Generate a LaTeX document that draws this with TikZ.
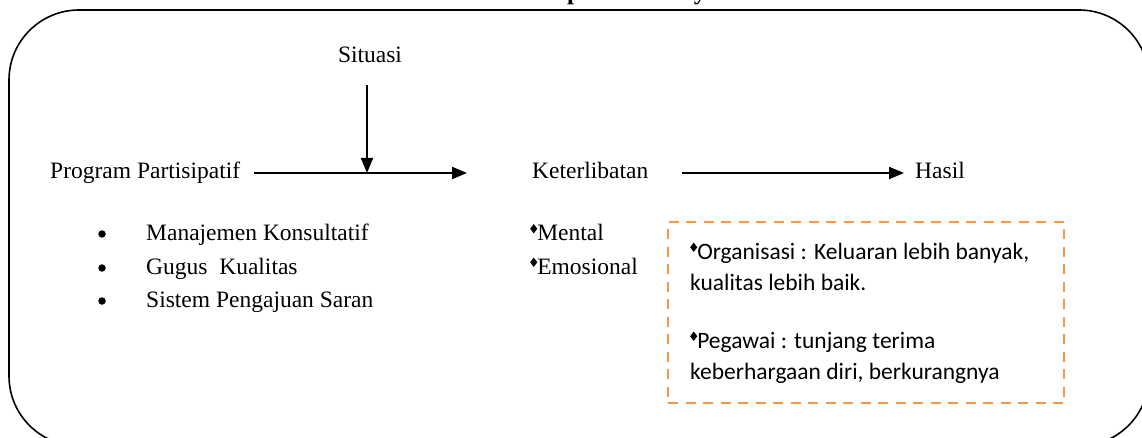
\documentclass[tikz,border=0pt]{standalone}
\usepackage{fontspec}
\setmainfont{Liberation Serif}
\newfontfamily\calfont{Carlito}
\usetikzlibrary{arrows.meta}
\definecolor{boxorange}{RGB}{247,150,70}
\newcommand{\dia}{\raisebox{0.3em}{\tikz\fill (0,0)--(0.15em,0.2em)--(0.3em,0)--(0.15em,-0.2em)--cycle;}}
\begin{document}
\begin{tikzpicture}[x=1pt,y=-1pt,
  serif/.style={font=\fontsize{23.5}{28}\selectfont, inner sep=0pt},
  cal/.style={font=\calfont\fontsize{23.5}{28}\selectfont, inner sep=0pt, anchor=base west},
  arr/.style={line width=2pt, -{Triangle[length=15pt,width=12pt]}},
  dot/.style={circle, fill=black, inner sep=0pt, minimum size=7.5pt},
  ttl/.style={font=\bfseries\fontsize{25}{28}\selectfont, inner sep=0pt, anchor=base}]
\useasboundingbox (0,0) rectangle (1142,438);
% outer rounded frame (partly outside the page)
\draw[line width=1.6pt, rounded corners=70pt] (9,10) rectangle (1149,446);
% cut-off title descenders
\node[ttl] (t1) at (574,-0.5) {p};
\node[ttl] (t2) at (700,-0.5) {y};
% main row
\node[serif, anchor=base west] (prog) at (50,179) {Program Partisipatif};
\node[serif, anchor=base] (sit) at (370,63) {Situasi};
\node[serif, anchor=base west] (ket) at (532,179) {Keterlibatan};
\node[serif, anchor=base west] (has) at (915,179) {Hasil};
\coordinate (a1s) at (254,173);
\coordinate (a1e) at (467,173);
\coordinate (vs) at (367,85);
\coordinate (ve) at (367,173);
\coordinate (a2s) at (682,173);
\coordinate (a2e) at (904,173);
\draw[arr] (a1s) -- (a1e);
\draw[arr] (vs) -- (ve);
\draw[arr] (a2s) -- (a2e);
% list
\node[dot] (d1) at (102,234) {};
\node[dot] (d2) at (102,268) {};
\node[dot] (d3) at (102,301) {};
\node[serif, anchor=base west] (l1) at (146,240.5) {Manajemen Konsultatif};
\node[serif, anchor=base west] (l2) at (146,274) {Gugus\ \ Kualitas};
\node[serif, anchor=base west] (l3) at (146,307.5) {Sistem Pengajuan Saran};
% mental
\node[serif, anchor=base west] (m1) at (530,240.5) {\dia Mental};
\node[serif, anchor=base west] (m2) at (530,274) {\dia Emosional};
% dashed box
\node[draw=boxorange, line width=2.4pt, dash pattern=on 10pt off 7.5pt, anchor=north west,
  minimum width=396pt, minimum height=181pt, inner sep=0pt] (box) at (667,221) {};
\node[cal] (b1) at (690,259) {\dia Organisasi : Keluaran lebih banyak,};
\node[cal] (b2) at (690,290) {kualitas lebih baik.};
\node[cal] (b3) at (690,348) {\dia Pegawai : tunjang terima};
\node[cal] (b4) at (690,379) {keberhargaan diri, berkurangnya};
\end{tikzpicture}
\end{document}
